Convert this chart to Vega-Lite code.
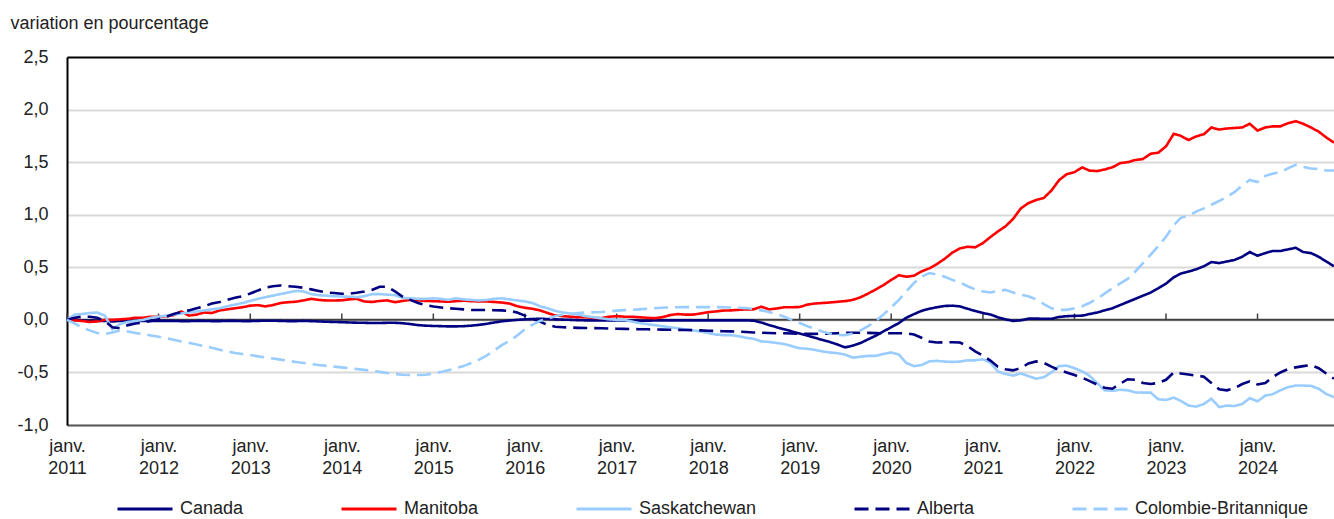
{
"$schema": "https://vega.github.io/schema/vega-lite/v6.json",
"width": 1267, "height": 368,
"autosize": {"type": "none"},
"padding": {"left": 67, "top": 57, "right": 0, "bottom": 94},
"background": "white",
"config": {"view": {"stroke": null}, "font": "Liberation Sans, Arial, sans-serif", "axis": {"labelColor": "#222222", "titleColor": "#222222"}},
"data": {"format": {"parse": {"d": "date"}}, "values": [
{"d":"2011-01","s":"Canada","v":0},{"d":"2011-02","s":"Canada","v":0},{"d":"2011-03","s":"Canada","v":-0.005},{"d":"2011-04","s":"Canada","v":-0.01},{"d":"2011-05","s":"Canada","v":-0.01},{"d":"2011-06","s":"Canada","v":-0.01},{"d":"2011-07","s":"Canada","v":-0.015},{"d":"2011-08","s":"Canada","v":-0.01},{"d":"2011-09","s":"Canada","v":-0.01},{"d":"2011-10","s":"Canada","v":-0.01},{"d":"2011-11","s":"Canada","v":-0.01},{"d":"2011-12","s":"Canada","v":-0.01},
{"d":"2012-01","s":"Canada","v":-0.01},{"d":"2012-02","s":"Canada","v":-0.01},{"d":"2012-03","s":"Canada","v":-0.01},{"d":"2012-04","s":"Canada","v":-0.012},{"d":"2012-05","s":"Canada","v":-0.012},{"d":"2012-06","s":"Canada","v":-0.01},{"d":"2012-07","s":"Canada","v":-0.01},{"d":"2012-08","s":"Canada","v":-0.012},{"d":"2012-09","s":"Canada","v":-0.012},{"d":"2012-10","s":"Canada","v":-0.01},{"d":"2012-11","s":"Canada","v":-0.01},{"d":"2012-12","s":"Canada","v":-0.012},
{"d":"2013-01","s":"Canada","v":-0.012},{"d":"2013-02","s":"Canada","v":-0.01},{"d":"2013-03","s":"Canada","v":-0.008},{"d":"2013-04","s":"Canada","v":-0.008},{"d":"2013-05","s":"Canada","v":-0.01},{"d":"2013-06","s":"Canada","v":-0.012},{"d":"2013-07","s":"Canada","v":-0.012},{"d":"2013-08","s":"Canada","v":-0.01},{"d":"2013-09","s":"Canada","v":-0.012},{"d":"2013-10","s":"Canada","v":-0.015},{"d":"2013-11","s":"Canada","v":-0.018},{"d":"2013-12","s":"Canada","v":-0.02},
{"d":"2014-01","s":"Canada","v":-0.022},{"d":"2014-02","s":"Canada","v":-0.025},{"d":"2014-03","s":"Canada","v":-0.027},{"d":"2014-04","s":"Canada","v":-0.028},{"d":"2014-05","s":"Canada","v":-0.03},{"d":"2014-06","s":"Canada","v":-0.03},{"d":"2014-07","s":"Canada","v":-0.028},{"d":"2014-08","s":"Canada","v":-0.028},{"d":"2014-09","s":"Canada","v":-0.032},{"d":"2014-10","s":"Canada","v":-0.04},{"d":"2014-11","s":"Canada","v":-0.05},{"d":"2014-12","s":"Canada","v":-0.055},
{"d":"2015-01","s":"Canada","v":-0.058},{"d":"2015-02","s":"Canada","v":-0.06},{"d":"2015-03","s":"Canada","v":-0.062},{"d":"2015-04","s":"Canada","v":-0.062},{"d":"2015-05","s":"Canada","v":-0.06},{"d":"2015-06","s":"Canada","v":-0.055},{"d":"2015-07","s":"Canada","v":-0.048},{"d":"2015-08","s":"Canada","v":-0.038},{"d":"2015-09","s":"Canada","v":-0.025},{"d":"2015-10","s":"Canada","v":-0.014},{"d":"2015-11","s":"Canada","v":-0.006},{"d":"2015-12","s":"Canada","v":0},
{"d":"2016-01","s":"Canada","v":0.005},{"d":"2016-02","s":"Canada","v":0.008},{"d":"2016-03","s":"Canada","v":0.01},{"d":"2016-04","s":"Canada","v":0.008},{"d":"2016-05","s":"Canada","v":0.005},{"d":"2016-06","s":"Canada","v":0.002},{"d":"2016-07","s":"Canada","v":0},{"d":"2016-08","s":"Canada","v":-0.003},{"d":"2016-09","s":"Canada","v":-0.005},{"d":"2016-10","s":"Canada","v":-0.005},{"d":"2016-11","s":"Canada","v":-0.005},{"d":"2016-12","s":"Canada","v":-0.005},
{"d":"2017-01","s":"Canada","v":-0.005},{"d":"2017-02","s":"Canada","v":-0.005},{"d":"2017-03","s":"Canada","v":-0.006},{"d":"2017-04","s":"Canada","v":-0.008},{"d":"2017-05","s":"Canada","v":-0.008},{"d":"2017-06","s":"Canada","v":-0.006},{"d":"2017-07","s":"Canada","v":-0.005},{"d":"2017-08","s":"Canada","v":-0.005},{"d":"2017-09","s":"Canada","v":-0.005},{"d":"2017-10","s":"Canada","v":-0.005},{"d":"2017-11","s":"Canada","v":-0.005},{"d":"2017-12","s":"Canada","v":-0.005},
{"d":"2018-01","s":"Canada","v":-0.005},{"d":"2018-02","s":"Canada","v":-0.005},{"d":"2018-03","s":"Canada","v":-0.005},{"d":"2018-04","s":"Canada","v":-0.005},{"d":"2018-05","s":"Canada","v":-0.005},{"d":"2018-06","s":"Canada","v":-0.005},{"d":"2018-07","s":"Canada","v":-0.008},{"d":"2018-08","s":"Canada","v":-0.025},{"d":"2018-09","s":"Canada","v":-0.05},{"d":"2018-10","s":"Canada","v":-0.07},{"d":"2018-11","s":"Canada","v":-0.09},{"d":"2018-12","s":"Canada","v":-0.11},
{"d":"2019-01","s":"Canada","v":-0.13},{"d":"2019-02","s":"Canada","v":-0.15},{"d":"2019-03","s":"Canada","v":-0.17},{"d":"2019-04","s":"Canada","v":-0.19},{"d":"2019-05","s":"Canada","v":-0.21},{"d":"2019-06","s":"Canada","v":-0.235},{"d":"2019-07","s":"Canada","v":-0.262},{"d":"2019-08","s":"Canada","v":-0.245},{"d":"2019-09","s":"Canada","v":-0.22},{"d":"2019-10","s":"Canada","v":-0.185},{"d":"2019-11","s":"Canada","v":-0.15},{"d":"2019-12","s":"Canada","v":-0.11},
{"d":"2020-01","s":"Canada","v":-0.07},{"d":"2020-02","s":"Canada","v":-0.03},{"d":"2020-03","s":"Canada","v":0.02},{"d":"2020-04","s":"Canada","v":0.055},{"d":"2020-05","s":"Canada","v":0.085},{"d":"2020-06","s":"Canada","v":0.105},{"d":"2020-07","s":"Canada","v":0.12},{"d":"2020-08","s":"Canada","v":0.132},{"d":"2020-09","s":"Canada","v":0.135},{"d":"2020-10","s":"Canada","v":0.128},{"d":"2020-11","s":"Canada","v":0.105},{"d":"2020-12","s":"Canada","v":0.085},
{"d":"2021-01","s":"Canada","v":0.065},{"d":"2021-02","s":"Canada","v":0.05},{"d":"2021-03","s":"Canada","v":0.025},{"d":"2021-04","s":"Canada","v":0.005},{"d":"2021-05","s":"Canada","v":-0.01},{"d":"2021-06","s":"Canada","v":-0.005},{"d":"2021-07","s":"Canada","v":0.012},{"d":"2021-08","s":"Canada","v":0.012},{"d":"2021-09","s":"Canada","v":0.01},{"d":"2021-10","s":"Canada","v":0.01},{"d":"2021-11","s":"Canada","v":0.028},{"d":"2021-12","s":"Canada","v":0.035},
{"d":"2022-01","s":"Canada","v":0.038},{"d":"2022-02","s":"Canada","v":0.04},{"d":"2022-03","s":"Canada","v":0.055},{"d":"2022-04","s":"Canada","v":0.07},{"d":"2022-05","s":"Canada","v":0.09},{"d":"2022-06","s":"Canada","v":0.11},{"d":"2022-07","s":"Canada","v":0.14},{"d":"2022-08","s":"Canada","v":0.17},{"d":"2022-09","s":"Canada","v":0.2},{"d":"2022-10","s":"Canada","v":0.23},{"d":"2022-11","s":"Canada","v":0.26},{"d":"2022-12","s":"Canada","v":0.3},
{"d":"2023-01","s":"Canada","v":0.345},{"d":"2023-02","s":"Canada","v":0.405},{"d":"2023-03","s":"Canada","v":0.44},{"d":"2023-04","s":"Canada","v":0.46},{"d":"2023-05","s":"Canada","v":0.48},{"d":"2023-06","s":"Canada","v":0.51},{"d":"2023-07","s":"Canada","v":0.55},{"d":"2023-08","s":"Canada","v":0.54},{"d":"2023-09","s":"Canada","v":0.555},{"d":"2023-10","s":"Canada","v":0.57},{"d":"2023-11","s":"Canada","v":0.6},{"d":"2023-12","s":"Canada","v":0.645},
{"d":"2024-01","s":"Canada","v":0.61},{"d":"2024-02","s":"Canada","v":0.635},{"d":"2024-03","s":"Canada","v":0.655},{"d":"2024-04","s":"Canada","v":0.655},{"d":"2024-05","s":"Canada","v":0.67},{"d":"2024-06","s":"Canada","v":0.685},{"d":"2024-07","s":"Canada","v":0.645},{"d":"2024-08","s":"Canada","v":0.635},{"d":"2024-09","s":"Canada","v":0.6},{"d":"2024-10","s":"Canada","v":0.555},{"d":"2024-11","s":"Canada","v":0.51},
{"d":"2011-01","s":"Manitoba","v":0},{"d":"2011-02","s":"Manitoba","v":-0.005},{"d":"2011-03","s":"Manitoba","v":-0.01},{"d":"2011-04","s":"Manitoba","v":-0.02},{"d":"2011-05","s":"Manitoba","v":-0.015},{"d":"2011-06","s":"Manitoba","v":0},{"d":"2011-07","s":"Manitoba","v":0},{"d":"2011-08","s":"Manitoba","v":0.005},{"d":"2011-09","s":"Manitoba","v":0.01},{"d":"2011-10","s":"Manitoba","v":0.02},{"d":"2011-11","s":"Manitoba","v":0.02},{"d":"2011-12","s":"Manitoba","v":0.03},
{"d":"2012-01","s":"Manitoba","v":0.03},{"d":"2012-02","s":"Manitoba","v":0.035},{"d":"2012-03","s":"Manitoba","v":0.045},{"d":"2012-04","s":"Manitoba","v":0.08},{"d":"2012-05","s":"Manitoba","v":0.04},{"d":"2012-06","s":"Manitoba","v":0.05},{"d":"2012-07","s":"Manitoba","v":0.07},{"d":"2012-08","s":"Manitoba","v":0.065},{"d":"2012-09","s":"Manitoba","v":0.09},{"d":"2012-10","s":"Manitoba","v":0.1},{"d":"2012-11","s":"Manitoba","v":0.11},{"d":"2012-12","s":"Manitoba","v":0.12},
{"d":"2013-01","s":"Manitoba","v":0.135},{"d":"2013-02","s":"Manitoba","v":0.14},{"d":"2013-03","s":"Manitoba","v":0.128},{"d":"2013-04","s":"Manitoba","v":0.14},{"d":"2013-05","s":"Manitoba","v":0.16},{"d":"2013-06","s":"Manitoba","v":0.168},{"d":"2013-07","s":"Manitoba","v":0.172},{"d":"2013-08","s":"Manitoba","v":0.185},{"d":"2013-09","s":"Manitoba","v":0.2},{"d":"2013-10","s":"Manitoba","v":0.19},{"d":"2013-11","s":"Manitoba","v":0.184},{"d":"2013-12","s":"Manitoba","v":0.184},
{"d":"2014-01","s":"Manitoba","v":0.186},{"d":"2014-02","s":"Manitoba","v":0.195},{"d":"2014-03","s":"Manitoba","v":0.2},{"d":"2014-04","s":"Manitoba","v":0.175},{"d":"2014-05","s":"Manitoba","v":0.17},{"d":"2014-06","s":"Manitoba","v":0.18},{"d":"2014-07","s":"Manitoba","v":0.185},{"d":"2014-08","s":"Manitoba","v":0.168},{"d":"2014-09","s":"Manitoba","v":0.18},{"d":"2014-10","s":"Manitoba","v":0.19},{"d":"2014-11","s":"Manitoba","v":0.185},{"d":"2014-12","s":"Manitoba","v":0.18},
{"d":"2015-01","s":"Manitoba","v":0.178},{"d":"2015-02","s":"Manitoba","v":0.175},{"d":"2015-03","s":"Manitoba","v":0.172},{"d":"2015-04","s":"Manitoba","v":0.178},{"d":"2015-05","s":"Manitoba","v":0.182},{"d":"2015-06","s":"Manitoba","v":0.178},{"d":"2015-07","s":"Manitoba","v":0.175},{"d":"2015-08","s":"Manitoba","v":0.175},{"d":"2015-09","s":"Manitoba","v":0.17},{"d":"2015-10","s":"Manitoba","v":0.165},{"d":"2015-11","s":"Manitoba","v":0.155},{"d":"2015-12","s":"Manitoba","v":0.13},
{"d":"2016-01","s":"Manitoba","v":0.115},{"d":"2016-02","s":"Manitoba","v":0.105},{"d":"2016-03","s":"Manitoba","v":0.09},{"d":"2016-04","s":"Manitoba","v":0.065},{"d":"2016-05","s":"Manitoba","v":0.042},{"d":"2016-06","s":"Manitoba","v":0.035},{"d":"2016-07","s":"Manitoba","v":0.03},{"d":"2016-08","s":"Manitoba","v":0.025},{"d":"2016-09","s":"Manitoba","v":0.025},{"d":"2016-10","s":"Manitoba","v":0.018},{"d":"2016-11","s":"Manitoba","v":0.016},{"d":"2016-12","s":"Manitoba","v":0.03},
{"d":"2017-01","s":"Manitoba","v":0.035},{"d":"2017-02","s":"Manitoba","v":0.03},{"d":"2017-03","s":"Manitoba","v":0.03},{"d":"2017-04","s":"Manitoba","v":0.025},{"d":"2017-05","s":"Manitoba","v":0.02},{"d":"2017-06","s":"Manitoba","v":0.016},{"d":"2017-07","s":"Manitoba","v":0.025},{"d":"2017-08","s":"Manitoba","v":0.045},{"d":"2017-09","s":"Manitoba","v":0.055},{"d":"2017-10","s":"Manitoba","v":0.05},{"d":"2017-11","s":"Manitoba","v":0.05},{"d":"2017-12","s":"Manitoba","v":0.06},
{"d":"2018-01","s":"Manitoba","v":0.073},{"d":"2018-02","s":"Manitoba","v":0.08},{"d":"2018-03","s":"Manitoba","v":0.088},{"d":"2018-04","s":"Manitoba","v":0.09},{"d":"2018-05","s":"Manitoba","v":0.095},{"d":"2018-06","s":"Manitoba","v":0.1},{"d":"2018-07","s":"Manitoba","v":0.1},{"d":"2018-08","s":"Manitoba","v":0.125},{"d":"2018-09","s":"Manitoba","v":0.1},{"d":"2018-10","s":"Manitoba","v":0.108},{"d":"2018-11","s":"Manitoba","v":0.12},{"d":"2018-12","s":"Manitoba","v":0.12},
{"d":"2019-01","s":"Manitoba","v":0.122},{"d":"2019-02","s":"Manitoba","v":0.145},{"d":"2019-03","s":"Manitoba","v":0.155},{"d":"2019-04","s":"Manitoba","v":0.16},{"d":"2019-05","s":"Manitoba","v":0.165},{"d":"2019-06","s":"Manitoba","v":0.172},{"d":"2019-07","s":"Manitoba","v":0.178},{"d":"2019-08","s":"Manitoba","v":0.19},{"d":"2019-09","s":"Manitoba","v":0.215},{"d":"2019-10","s":"Manitoba","v":0.25},{"d":"2019-11","s":"Manitoba","v":0.29},{"d":"2019-12","s":"Manitoba","v":0.33},
{"d":"2020-01","s":"Manitoba","v":0.38},{"d":"2020-02","s":"Manitoba","v":0.425},{"d":"2020-03","s":"Manitoba","v":0.41},{"d":"2020-04","s":"Manitoba","v":0.42},{"d":"2020-05","s":"Manitoba","v":0.46},{"d":"2020-06","s":"Manitoba","v":0.49},{"d":"2020-07","s":"Manitoba","v":0.53},{"d":"2020-08","s":"Manitoba","v":0.58},{"d":"2020-09","s":"Manitoba","v":0.64},{"d":"2020-10","s":"Manitoba","v":0.68},{"d":"2020-11","s":"Manitoba","v":0.695},{"d":"2020-12","s":"Manitoba","v":0.69},
{"d":"2021-01","s":"Manitoba","v":0.73},{"d":"2021-02","s":"Manitoba","v":0.79},{"d":"2021-03","s":"Manitoba","v":0.84},{"d":"2021-04","s":"Manitoba","v":0.89},{"d":"2021-05","s":"Manitoba","v":0.96},{"d":"2021-06","s":"Manitoba","v":1.06},{"d":"2021-07","s":"Manitoba","v":1.11},{"d":"2021-08","s":"Manitoba","v":1.14},{"d":"2021-09","s":"Manitoba","v":1.16},{"d":"2021-10","s":"Manitoba","v":1.23},{"d":"2021-11","s":"Manitoba","v":1.33},{"d":"2021-12","s":"Manitoba","v":1.385},
{"d":"2022-01","s":"Manitoba","v":1.405},{"d":"2022-02","s":"Manitoba","v":1.45},{"d":"2022-03","s":"Manitoba","v":1.42},{"d":"2022-04","s":"Manitoba","v":1.415},{"d":"2022-05","s":"Manitoba","v":1.43},{"d":"2022-06","s":"Manitoba","v":1.45},{"d":"2022-07","s":"Manitoba","v":1.49},{"d":"2022-08","s":"Manitoba","v":1.5},{"d":"2022-09","s":"Manitoba","v":1.52},{"d":"2022-10","s":"Manitoba","v":1.53},{"d":"2022-11","s":"Manitoba","v":1.58},{"d":"2022-12","s":"Manitoba","v":1.59},
{"d":"2023-01","s":"Manitoba","v":1.65},{"d":"2023-02","s":"Manitoba","v":1.77},{"d":"2023-03","s":"Manitoba","v":1.75},{"d":"2023-04","s":"Manitoba","v":1.71},{"d":"2023-05","s":"Manitoba","v":1.745},{"d":"2023-06","s":"Manitoba","v":1.765},{"d":"2023-07","s":"Manitoba","v":1.83},{"d":"2023-08","s":"Manitoba","v":1.81},{"d":"2023-09","s":"Manitoba","v":1.82},{"d":"2023-10","s":"Manitoba","v":1.825},{"d":"2023-11","s":"Manitoba","v":1.83},{"d":"2023-12","s":"Manitoba","v":1.865},
{"d":"2024-01","s":"Manitoba","v":1.8},{"d":"2024-02","s":"Manitoba","v":1.83},{"d":"2024-03","s":"Manitoba","v":1.84},{"d":"2024-04","s":"Manitoba","v":1.84},{"d":"2024-05","s":"Manitoba","v":1.87},{"d":"2024-06","s":"Manitoba","v":1.89},{"d":"2024-07","s":"Manitoba","v":1.865},{"d":"2024-08","s":"Manitoba","v":1.83},{"d":"2024-09","s":"Manitoba","v":1.79},{"d":"2024-10","s":"Manitoba","v":1.735},{"d":"2024-11","s":"Manitoba","v":1.685},
{"d":"2011-01","s":"Saskatchewan","v":0},{"d":"2011-02","s":"Saskatchewan","v":0.05},{"d":"2011-03","s":"Saskatchewan","v":0.055},{"d":"2011-04","s":"Saskatchewan","v":0.065},{"d":"2011-05","s":"Saskatchewan","v":0.07},{"d":"2011-06","s":"Saskatchewan","v":0.04},{"d":"2011-07","s":"Saskatchewan","v":-0.09},{"d":"2011-08","s":"Saskatchewan","v":-0.04},{"d":"2011-09","s":"Saskatchewan","v":-0.02},{"d":"2011-10","s":"Saskatchewan","v":-0.01},{"d":"2011-11","s":"Saskatchewan","v":0},{"d":"2011-12","s":"Saskatchewan","v":0.02},
{"d":"2012-01","s":"Saskatchewan","v":0.03},{"d":"2012-02","s":"Saskatchewan","v":0.04},{"d":"2012-03","s":"Saskatchewan","v":0.05},{"d":"2012-04","s":"Saskatchewan","v":0.06},{"d":"2012-05","s":"Saskatchewan","v":0.07},{"d":"2012-06","s":"Saskatchewan","v":0.08},{"d":"2012-07","s":"Saskatchewan","v":0.09},{"d":"2012-08","s":"Saskatchewan","v":0.1},{"d":"2012-09","s":"Saskatchewan","v":0.11},{"d":"2012-10","s":"Saskatchewan","v":0.13},{"d":"2012-11","s":"Saskatchewan","v":0.145},{"d":"2012-12","s":"Saskatchewan","v":0.16},
{"d":"2013-01","s":"Saskatchewan","v":0.18},{"d":"2013-02","s":"Saskatchewan","v":0.2},{"d":"2013-03","s":"Saskatchewan","v":0.215},{"d":"2013-04","s":"Saskatchewan","v":0.23},{"d":"2013-05","s":"Saskatchewan","v":0.245},{"d":"2013-06","s":"Saskatchewan","v":0.26},{"d":"2013-07","s":"Saskatchewan","v":0.275},{"d":"2013-08","s":"Saskatchewan","v":0.27},{"d":"2013-09","s":"Saskatchewan","v":0.245},{"d":"2013-10","s":"Saskatchewan","v":0.235},{"d":"2013-11","s":"Saskatchewan","v":0.23},{"d":"2013-12","s":"Saskatchewan","v":0.225},
{"d":"2014-01","s":"Saskatchewan","v":0.222},{"d":"2014-02","s":"Saskatchewan","v":0.22},{"d":"2014-03","s":"Saskatchewan","v":0.216},{"d":"2014-04","s":"Saskatchewan","v":0.225},{"d":"2014-05","s":"Saskatchewan","v":0.245},{"d":"2014-06","s":"Saskatchewan","v":0.245},{"d":"2014-07","s":"Saskatchewan","v":0.24},{"d":"2014-08","s":"Saskatchewan","v":0.235},{"d":"2014-09","s":"Saskatchewan","v":0.21},{"d":"2014-10","s":"Saskatchewan","v":0.205},{"d":"2014-11","s":"Saskatchewan","v":0.2},{"d":"2014-12","s":"Saskatchewan","v":0.2},
{"d":"2015-01","s":"Saskatchewan","v":0.205},{"d":"2015-02","s":"Saskatchewan","v":0.2},{"d":"2015-03","s":"Saskatchewan","v":0.19},{"d":"2015-04","s":"Saskatchewan","v":0.205},{"d":"2015-05","s":"Saskatchewan","v":0.195},{"d":"2015-06","s":"Saskatchewan","v":0.19},{"d":"2015-07","s":"Saskatchewan","v":0.185},{"d":"2015-08","s":"Saskatchewan","v":0.19},{"d":"2015-09","s":"Saskatchewan","v":0.2},{"d":"2015-10","s":"Saskatchewan","v":0.205},{"d":"2015-11","s":"Saskatchewan","v":0.195},{"d":"2015-12","s":"Saskatchewan","v":0.185},
{"d":"2016-01","s":"Saskatchewan","v":0.175},{"d":"2016-02","s":"Saskatchewan","v":0.16},{"d":"2016-03","s":"Saskatchewan","v":0.13},{"d":"2016-04","s":"Saskatchewan","v":0.11},{"d":"2016-05","s":"Saskatchewan","v":0.085},{"d":"2016-06","s":"Saskatchewan","v":0.07},{"d":"2016-07","s":"Saskatchewan","v":0.06},{"d":"2016-08","s":"Saskatchewan","v":0.05},{"d":"2016-09","s":"Saskatchewan","v":0.035},{"d":"2016-10","s":"Saskatchewan","v":0.025},{"d":"2016-11","s":"Saskatchewan","v":0.015},{"d":"2016-12","s":"Saskatchewan","v":0.005},
{"d":"2017-01","s":"Saskatchewan","v":0},{"d":"2017-02","s":"Saskatchewan","v":0},{"d":"2017-03","s":"Saskatchewan","v":-0.015},{"d":"2017-04","s":"Saskatchewan","v":-0.03},{"d":"2017-05","s":"Saskatchewan","v":-0.04},{"d":"2017-06","s":"Saskatchewan","v":-0.05},{"d":"2017-07","s":"Saskatchewan","v":-0.06},{"d":"2017-08","s":"Saskatchewan","v":-0.07},{"d":"2017-09","s":"Saskatchewan","v":-0.08},{"d":"2017-10","s":"Saskatchewan","v":-0.09},{"d":"2017-11","s":"Saskatchewan","v":-0.1},{"d":"2017-12","s":"Saskatchewan","v":-0.11},
{"d":"2018-01","s":"Saskatchewan","v":-0.125},{"d":"2018-02","s":"Saskatchewan","v":-0.14},{"d":"2018-03","s":"Saskatchewan","v":-0.145},{"d":"2018-04","s":"Saskatchewan","v":-0.145},{"d":"2018-05","s":"Saskatchewan","v":-0.155},{"d":"2018-06","s":"Saskatchewan","v":-0.17},{"d":"2018-07","s":"Saskatchewan","v":-0.18},{"d":"2018-08","s":"Saskatchewan","v":-0.205},{"d":"2018-09","s":"Saskatchewan","v":-0.21},{"d":"2018-10","s":"Saskatchewan","v":-0.22},{"d":"2018-11","s":"Saskatchewan","v":-0.23},{"d":"2018-12","s":"Saskatchewan","v":-0.25},
{"d":"2019-01","s":"Saskatchewan","v":-0.27},{"d":"2019-02","s":"Saskatchewan","v":-0.275},{"d":"2019-03","s":"Saskatchewan","v":-0.285},{"d":"2019-04","s":"Saskatchewan","v":-0.3},{"d":"2019-05","s":"Saskatchewan","v":-0.31},{"d":"2019-06","s":"Saskatchewan","v":-0.317},{"d":"2019-07","s":"Saskatchewan","v":-0.33},{"d":"2019-08","s":"Saskatchewan","v":-0.36},{"d":"2019-09","s":"Saskatchewan","v":-0.35},{"d":"2019-10","s":"Saskatchewan","v":-0.343},{"d":"2019-11","s":"Saskatchewan","v":-0.343},{"d":"2019-12","s":"Saskatchewan","v":-0.325},
{"d":"2020-01","s":"Saskatchewan","v":-0.31},{"d":"2020-02","s":"Saskatchewan","v":-0.33},{"d":"2020-03","s":"Saskatchewan","v":-0.41},{"d":"2020-04","s":"Saskatchewan","v":-0.44},{"d":"2020-05","s":"Saskatchewan","v":-0.43},{"d":"2020-06","s":"Saskatchewan","v":-0.395},{"d":"2020-07","s":"Saskatchewan","v":-0.39},{"d":"2020-08","s":"Saskatchewan","v":-0.397},{"d":"2020-09","s":"Saskatchewan","v":-0.4},{"d":"2020-10","s":"Saskatchewan","v":-0.397},{"d":"2020-11","s":"Saskatchewan","v":-0.385},{"d":"2020-12","s":"Saskatchewan","v":-0.385},
{"d":"2021-01","s":"Saskatchewan","v":-0.375},{"d":"2021-02","s":"Saskatchewan","v":-0.41},{"d":"2021-03","s":"Saskatchewan","v":-0.49},{"d":"2021-04","s":"Saskatchewan","v":-0.515},{"d":"2021-05","s":"Saskatchewan","v":-0.53},{"d":"2021-06","s":"Saskatchewan","v":-0.51},{"d":"2021-07","s":"Saskatchewan","v":-0.535},{"d":"2021-08","s":"Saskatchewan","v":-0.56},{"d":"2021-09","s":"Saskatchewan","v":-0.545},{"d":"2021-10","s":"Saskatchewan","v":-0.5},{"d":"2021-11","s":"Saskatchewan","v":-0.44},{"d":"2021-12","s":"Saskatchewan","v":-0.435},
{"d":"2022-01","s":"Saskatchewan","v":-0.46},{"d":"2022-02","s":"Saskatchewan","v":-0.49},{"d":"2022-03","s":"Saskatchewan","v":-0.53},{"d":"2022-04","s":"Saskatchewan","v":-0.6},{"d":"2022-05","s":"Saskatchewan","v":-0.67},{"d":"2022-06","s":"Saskatchewan","v":-0.675},{"d":"2022-07","s":"Saskatchewan","v":-0.665},{"d":"2022-08","s":"Saskatchewan","v":-0.67},{"d":"2022-09","s":"Saskatchewan","v":-0.69},{"d":"2022-10","s":"Saskatchewan","v":-0.692},{"d":"2022-11","s":"Saskatchewan","v":-0.692},{"d":"2022-12","s":"Saskatchewan","v":-0.755},
{"d":"2023-01","s":"Saskatchewan","v":-0.762},{"d":"2023-02","s":"Saskatchewan","v":-0.74},{"d":"2023-03","s":"Saskatchewan","v":-0.77},{"d":"2023-04","s":"Saskatchewan","v":-0.815},{"d":"2023-05","s":"Saskatchewan","v":-0.825},{"d":"2023-06","s":"Saskatchewan","v":-0.8},{"d":"2023-07","s":"Saskatchewan","v":-0.75},{"d":"2023-08","s":"Saskatchewan","v":-0.83},{"d":"2023-09","s":"Saskatchewan","v":-0.815},{"d":"2023-10","s":"Saskatchewan","v":-0.82},{"d":"2023-11","s":"Saskatchewan","v":-0.8},{"d":"2023-12","s":"Saskatchewan","v":-0.745},
{"d":"2024-01","s":"Saskatchewan","v":-0.775},{"d":"2024-02","s":"Saskatchewan","v":-0.72},{"d":"2024-03","s":"Saskatchewan","v":-0.708},{"d":"2024-04","s":"Saskatchewan","v":-0.67},{"d":"2024-05","s":"Saskatchewan","v":-0.64},{"d":"2024-06","s":"Saskatchewan","v":-0.625},{"d":"2024-07","s":"Saskatchewan","v":-0.625},{"d":"2024-08","s":"Saskatchewan","v":-0.628},{"d":"2024-09","s":"Saskatchewan","v":-0.655},{"d":"2024-10","s":"Saskatchewan","v":-0.705},{"d":"2024-11","s":"Saskatchewan","v":-0.735},
{"d":"2011-01","s":"Alberta","v":0},{"d":"2011-02","s":"Alberta","v":0.02},{"d":"2011-03","s":"Alberta","v":0.03},{"d":"2011-04","s":"Alberta","v":0.03},{"d":"2011-05","s":"Alberta","v":0.02},{"d":"2011-06","s":"Alberta","v":-0.01},{"d":"2011-07","s":"Alberta","v":-0.07},{"d":"2011-08","s":"Alberta","v":-0.08},{"d":"2011-09","s":"Alberta","v":-0.05},{"d":"2011-10","s":"Alberta","v":-0.035},{"d":"2011-11","s":"Alberta","v":-0.025},{"d":"2011-12","s":"Alberta","v":-0.01},
{"d":"2012-01","s":"Alberta","v":0.005},{"d":"2012-02","s":"Alberta","v":0.03},{"d":"2012-03","s":"Alberta","v":0.055},{"d":"2012-04","s":"Alberta","v":0.075},{"d":"2012-05","s":"Alberta","v":0.09},{"d":"2012-06","s":"Alberta","v":0.11},{"d":"2012-07","s":"Alberta","v":0.13},{"d":"2012-08","s":"Alberta","v":0.155},{"d":"2012-09","s":"Alberta","v":0.17},{"d":"2012-10","s":"Alberta","v":0.19},{"d":"2012-11","s":"Alberta","v":0.21},{"d":"2012-12","s":"Alberta","v":0.225},
{"d":"2013-01","s":"Alberta","v":0.25},{"d":"2013-02","s":"Alberta","v":0.28},{"d":"2013-03","s":"Alberta","v":0.305},{"d":"2013-04","s":"Alberta","v":0.32},{"d":"2013-05","s":"Alberta","v":0.327},{"d":"2013-06","s":"Alberta","v":0.32},{"d":"2013-07","s":"Alberta","v":0.315},{"d":"2013-08","s":"Alberta","v":0.305},{"d":"2013-09","s":"Alberta","v":0.29},{"d":"2013-10","s":"Alberta","v":0.275},{"d":"2013-11","s":"Alberta","v":0.26},{"d":"2013-12","s":"Alberta","v":0.255},
{"d":"2014-01","s":"Alberta","v":0.248},{"d":"2014-02","s":"Alberta","v":0.25},{"d":"2014-03","s":"Alberta","v":0.258},{"d":"2014-04","s":"Alberta","v":0.27},{"d":"2014-05","s":"Alberta","v":0.285},{"d":"2014-06","s":"Alberta","v":0.315},{"d":"2014-07","s":"Alberta","v":0.315},{"d":"2014-08","s":"Alberta","v":0.27},{"d":"2014-09","s":"Alberta","v":0.22},{"d":"2014-10","s":"Alberta","v":0.19},{"d":"2014-11","s":"Alberta","v":0.16},{"d":"2014-12","s":"Alberta","v":0.14},
{"d":"2015-01","s":"Alberta","v":0.127},{"d":"2015-02","s":"Alberta","v":0.118},{"d":"2015-03","s":"Alberta","v":0.111},{"d":"2015-04","s":"Alberta","v":0.105},{"d":"2015-05","s":"Alberta","v":0.1},{"d":"2015-06","s":"Alberta","v":0.095},{"d":"2015-07","s":"Alberta","v":0.094},{"d":"2015-08","s":"Alberta","v":0.093},{"d":"2015-09","s":"Alberta","v":0.092},{"d":"2015-10","s":"Alberta","v":0.09},{"d":"2015-11","s":"Alberta","v":0.085},{"d":"2015-12","s":"Alberta","v":0.07},
{"d":"2016-01","s":"Alberta","v":0.04},{"d":"2016-02","s":"Alberta","v":0.01},{"d":"2016-03","s":"Alberta","v":-0.016},{"d":"2016-04","s":"Alberta","v":-0.05},{"d":"2016-05","s":"Alberta","v":-0.065},{"d":"2016-06","s":"Alberta","v":-0.07},{"d":"2016-07","s":"Alberta","v":-0.073},{"d":"2016-08","s":"Alberta","v":-0.076},{"d":"2016-09","s":"Alberta","v":-0.078},{"d":"2016-10","s":"Alberta","v":-0.079},{"d":"2016-11","s":"Alberta","v":-0.08},{"d":"2016-12","s":"Alberta","v":-0.082},
{"d":"2017-01","s":"Alberta","v":-0.084},{"d":"2017-02","s":"Alberta","v":-0.086},{"d":"2017-03","s":"Alberta","v":-0.088},{"d":"2017-04","s":"Alberta","v":-0.089},{"d":"2017-05","s":"Alberta","v":-0.09},{"d":"2017-06","s":"Alberta","v":-0.092},{"d":"2017-07","s":"Alberta","v":-0.093},{"d":"2017-08","s":"Alberta","v":-0.094},{"d":"2017-09","s":"Alberta","v":-0.095},{"d":"2017-10","s":"Alberta","v":-0.096},{"d":"2017-11","s":"Alberta","v":-0.098},{"d":"2017-12","s":"Alberta","v":-0.1},
{"d":"2018-01","s":"Alberta","v":-0.103},{"d":"2018-02","s":"Alberta","v":-0.106},{"d":"2018-03","s":"Alberta","v":-0.108},{"d":"2018-04","s":"Alberta","v":-0.11},{"d":"2018-05","s":"Alberta","v":-0.112},{"d":"2018-06","s":"Alberta","v":-0.116},{"d":"2018-07","s":"Alberta","v":-0.12},{"d":"2018-08","s":"Alberta","v":-0.123},{"d":"2018-09","s":"Alberta","v":-0.125},{"d":"2018-10","s":"Alberta","v":-0.127},{"d":"2018-11","s":"Alberta","v":-0.128},{"d":"2018-12","s":"Alberta","v":-0.13},
{"d":"2019-01","s":"Alberta","v":-0.132},{"d":"2019-02","s":"Alberta","v":-0.133},{"d":"2019-03","s":"Alberta","v":-0.133},{"d":"2019-04","s":"Alberta","v":-0.132},{"d":"2019-05","s":"Alberta","v":-0.13},{"d":"2019-06","s":"Alberta","v":-0.127},{"d":"2019-07","s":"Alberta","v":-0.124},{"d":"2019-08","s":"Alberta","v":-0.122},{"d":"2019-09","s":"Alberta","v":-0.122},{"d":"2019-10","s":"Alberta","v":-0.124},{"d":"2019-11","s":"Alberta","v":-0.126},{"d":"2019-12","s":"Alberta","v":-0.127},
{"d":"2020-01","s":"Alberta","v":-0.127},{"d":"2020-02","s":"Alberta","v":-0.127},{"d":"2020-03","s":"Alberta","v":-0.127},{"d":"2020-04","s":"Alberta","v":-0.14},{"d":"2020-05","s":"Alberta","v":-0.17},{"d":"2020-06","s":"Alberta","v":-0.205},{"d":"2020-07","s":"Alberta","v":-0.216},{"d":"2020-08","s":"Alberta","v":-0.214},{"d":"2020-09","s":"Alberta","v":-0.213},{"d":"2020-10","s":"Alberta","v":-0.215},{"d":"2020-11","s":"Alberta","v":-0.25},{"d":"2020-12","s":"Alberta","v":-0.3},
{"d":"2021-01","s":"Alberta","v":-0.34},{"d":"2021-02","s":"Alberta","v":-0.39},{"d":"2021-03","s":"Alberta","v":-0.445},{"d":"2021-04","s":"Alberta","v":-0.47},{"d":"2021-05","s":"Alberta","v":-0.48},{"d":"2021-06","s":"Alberta","v":-0.46},{"d":"2021-07","s":"Alberta","v":-0.415},{"d":"2021-08","s":"Alberta","v":-0.395},{"d":"2021-09","s":"Alberta","v":-0.41},{"d":"2021-10","s":"Alberta","v":-0.445},{"d":"2021-11","s":"Alberta","v":-0.478},{"d":"2021-12","s":"Alberta","v":-0.5},
{"d":"2022-01","s":"Alberta","v":-0.525},{"d":"2022-02","s":"Alberta","v":-0.55},{"d":"2022-03","s":"Alberta","v":-0.58},{"d":"2022-04","s":"Alberta","v":-0.615},{"d":"2022-05","s":"Alberta","v":-0.645},{"d":"2022-06","s":"Alberta","v":-0.655},{"d":"2022-07","s":"Alberta","v":-0.61},{"d":"2022-08","s":"Alberta","v":-0.565},{"d":"2022-09","s":"Alberta","v":-0.57},{"d":"2022-10","s":"Alberta","v":-0.6},{"d":"2022-11","s":"Alberta","v":-0.61},{"d":"2022-12","s":"Alberta","v":-0.6},
{"d":"2023-01","s":"Alberta","v":-0.57},{"d":"2023-02","s":"Alberta","v":-0.5},{"d":"2023-03","s":"Alberta","v":-0.51},{"d":"2023-04","s":"Alberta","v":-0.52},{"d":"2023-05","s":"Alberta","v":-0.53},{"d":"2023-06","s":"Alberta","v":-0.54},{"d":"2023-07","s":"Alberta","v":-0.6},{"d":"2023-08","s":"Alberta","v":-0.66},{"d":"2023-09","s":"Alberta","v":-0.67},{"d":"2023-10","s":"Alberta","v":-0.65},{"d":"2023-11","s":"Alberta","v":-0.61},{"d":"2023-12","s":"Alberta","v":-0.585},
{"d":"2024-01","s":"Alberta","v":-0.615},{"d":"2024-02","s":"Alberta","v":-0.6},{"d":"2024-03","s":"Alberta","v":-0.545},{"d":"2024-04","s":"Alberta","v":-0.5},{"d":"2024-05","s":"Alberta","v":-0.47},{"d":"2024-06","s":"Alberta","v":-0.452},{"d":"2024-07","s":"Alberta","v":-0.44},{"d":"2024-08","s":"Alberta","v":-0.43},{"d":"2024-09","s":"Alberta","v":-0.46},{"d":"2024-10","s":"Alberta","v":-0.51},{"d":"2024-11","s":"Alberta","v":-0.56},
{"d":"2011-01","s":"Colombie-Britannique","v":0},{"d":"2011-02","s":"Colombie-Britannique","v":-0.035},{"d":"2011-03","s":"Colombie-Britannique","v":-0.07},{"d":"2011-04","s":"Colombie-Britannique","v":-0.1},{"d":"2011-05","s":"Colombie-Britannique","v":-0.125},{"d":"2011-06","s":"Colombie-Britannique","v":-0.135},{"d":"2011-07","s":"Colombie-Britannique","v":-0.12},{"d":"2011-08","s":"Colombie-Britannique","v":-0.1},{"d":"2011-09","s":"Colombie-Britannique","v":-0.11},{"d":"2011-10","s":"Colombie-Britannique","v":-0.125},{"d":"2011-11","s":"Colombie-Britannique","v":-0.135},{"d":"2011-12","s":"Colombie-Britannique","v":-0.148},
{"d":"2012-01","s":"Colombie-Britannique","v":-0.16},{"d":"2012-02","s":"Colombie-Britannique","v":-0.175},{"d":"2012-03","s":"Colombie-Britannique","v":-0.19},{"d":"2012-04","s":"Colombie-Britannique","v":-0.205},{"d":"2012-05","s":"Colombie-Britannique","v":-0.218},{"d":"2012-06","s":"Colombie-Britannique","v":-0.235},{"d":"2012-07","s":"Colombie-Britannique","v":-0.25},{"d":"2012-08","s":"Colombie-Britannique","v":-0.265},{"d":"2012-09","s":"Colombie-Britannique","v":-0.285},{"d":"2012-10","s":"Colombie-Britannique","v":-0.3},{"d":"2012-11","s":"Colombie-Britannique","v":-0.315},{"d":"2012-12","s":"Colombie-Britannique","v":-0.325},
{"d":"2013-01","s":"Colombie-Britannique","v":-0.335},{"d":"2013-02","s":"Colombie-Britannique","v":-0.347},{"d":"2013-03","s":"Colombie-Britannique","v":-0.357},{"d":"2013-04","s":"Colombie-Britannique","v":-0.368},{"d":"2013-05","s":"Colombie-Britannique","v":-0.378},{"d":"2013-06","s":"Colombie-Britannique","v":-0.39},{"d":"2013-07","s":"Colombie-Britannique","v":-0.4},{"d":"2013-08","s":"Colombie-Britannique","v":-0.41},{"d":"2013-09","s":"Colombie-Britannique","v":-0.42},{"d":"2013-10","s":"Colombie-Britannique","v":-0.43},{"d":"2013-11","s":"Colombie-Britannique","v":-0.438},{"d":"2013-12","s":"Colombie-Britannique","v":-0.445},
{"d":"2014-01","s":"Colombie-Britannique","v":-0.452},{"d":"2014-02","s":"Colombie-Britannique","v":-0.46},{"d":"2014-03","s":"Colombie-Britannique","v":-0.468},{"d":"2014-04","s":"Colombie-Britannique","v":-0.476},{"d":"2014-05","s":"Colombie-Britannique","v":-0.485},{"d":"2014-06","s":"Colombie-Britannique","v":-0.495},{"d":"2014-07","s":"Colombie-Britannique","v":-0.505},{"d":"2014-08","s":"Colombie-Britannique","v":-0.515},{"d":"2014-09","s":"Colombie-Britannique","v":-0.522},{"d":"2014-10","s":"Colombie-Britannique","v":-0.525},{"d":"2014-11","s":"Colombie-Britannique","v":-0.525},{"d":"2014-12","s":"Colombie-Britannique","v":-0.522},
{"d":"2015-01","s":"Colombie-Britannique","v":-0.51},{"d":"2015-02","s":"Colombie-Britannique","v":-0.495},{"d":"2015-03","s":"Colombie-Britannique","v":-0.48},{"d":"2015-04","s":"Colombie-Britannique","v":-0.46},{"d":"2015-05","s":"Colombie-Britannique","v":-0.44},{"d":"2015-06","s":"Colombie-Britannique","v":-0.41},{"d":"2015-07","s":"Colombie-Britannique","v":-0.38},{"d":"2015-08","s":"Colombie-Britannique","v":-0.34},{"d":"2015-09","s":"Colombie-Britannique","v":-0.29},{"d":"2015-10","s":"Colombie-Britannique","v":-0.24},{"d":"2015-11","s":"Colombie-Britannique","v":-0.2},{"d":"2015-12","s":"Colombie-Britannique","v":-0.15},
{"d":"2016-01","s":"Colombie-Britannique","v":-0.09},{"d":"2016-02","s":"Colombie-Britannique","v":-0.045},{"d":"2016-03","s":"Colombie-Britannique","v":-0.01},{"d":"2016-04","s":"Colombie-Britannique","v":0.012},{"d":"2016-05","s":"Colombie-Britannique","v":0.035},{"d":"2016-06","s":"Colombie-Britannique","v":0.05},{"d":"2016-07","s":"Colombie-Britannique","v":0.055},{"d":"2016-08","s":"Colombie-Britannique","v":0.065},{"d":"2016-09","s":"Colombie-Britannique","v":0.07},{"d":"2016-10","s":"Colombie-Britannique","v":0.072},{"d":"2016-11","s":"Colombie-Britannique","v":0.075},{"d":"2016-12","s":"Colombie-Britannique","v":0.08},
{"d":"2017-01","s":"Colombie-Britannique","v":0.088},{"d":"2017-02","s":"Colombie-Britannique","v":0.093},{"d":"2017-03","s":"Colombie-Britannique","v":0.095},{"d":"2017-04","s":"Colombie-Britannique","v":0.1},{"d":"2017-05","s":"Colombie-Britannique","v":0.105},{"d":"2017-06","s":"Colombie-Britannique","v":0.11},{"d":"2017-07","s":"Colombie-Britannique","v":0.115},{"d":"2017-08","s":"Colombie-Britannique","v":0.118},{"d":"2017-09","s":"Colombie-Britannique","v":0.12},{"d":"2017-10","s":"Colombie-Britannique","v":0.121},{"d":"2017-11","s":"Colombie-Britannique","v":0.121},{"d":"2017-12","s":"Colombie-Britannique","v":0.121},
{"d":"2018-01","s":"Colombie-Britannique","v":0.121},{"d":"2018-02","s":"Colombie-Britannique","v":0.121},{"d":"2018-03","s":"Colombie-Britannique","v":0.12},{"d":"2018-04","s":"Colombie-Britannique","v":0.118},{"d":"2018-05","s":"Colombie-Britannique","v":0.115},{"d":"2018-06","s":"Colombie-Britannique","v":0.112},{"d":"2018-07","s":"Colombie-Britannique","v":0.105},{"d":"2018-08","s":"Colombie-Britannique","v":0.09},{"d":"2018-09","s":"Colombie-Britannique","v":0.075},{"d":"2018-10","s":"Colombie-Britannique","v":0.055},{"d":"2018-11","s":"Colombie-Britannique","v":0.03},{"d":"2018-12","s":"Colombie-Britannique","v":0},
{"d":"2019-01","s":"Colombie-Britannique","v":-0.03},{"d":"2019-02","s":"Colombie-Britannique","v":-0.06},{"d":"2019-03","s":"Colombie-Britannique","v":-0.085},{"d":"2019-04","s":"Colombie-Britannique","v":-0.11},{"d":"2019-05","s":"Colombie-Britannique","v":-0.13},{"d":"2019-06","s":"Colombie-Britannique","v":-0.143},{"d":"2019-07","s":"Colombie-Britannique","v":-0.145},{"d":"2019-08","s":"Colombie-Britannique","v":-0.13},{"d":"2019-09","s":"Colombie-Britannique","v":-0.1},{"d":"2019-10","s":"Colombie-Britannique","v":-0.06},{"d":"2019-11","s":"Colombie-Britannique","v":-0.01},{"d":"2019-12","s":"Colombie-Britannique","v":0.05},
{"d":"2020-01","s":"Colombie-Britannique","v":0.12},{"d":"2020-02","s":"Colombie-Britannique","v":0.19},{"d":"2020-03","s":"Colombie-Britannique","v":0.27},{"d":"2020-04","s":"Colombie-Britannique","v":0.35},{"d":"2020-05","s":"Colombie-Britannique","v":0.41},{"d":"2020-06","s":"Colombie-Britannique","v":0.445},{"d":"2020-07","s":"Colombie-Britannique","v":0.43},{"d":"2020-08","s":"Colombie-Britannique","v":0.41},{"d":"2020-09","s":"Colombie-Britannique","v":0.38},{"d":"2020-10","s":"Colombie-Britannique","v":0.355},{"d":"2020-11","s":"Colombie-Britannique","v":0.32},{"d":"2020-12","s":"Colombie-Britannique","v":0.29},
{"d":"2021-01","s":"Colombie-Britannique","v":0.27},{"d":"2021-02","s":"Colombie-Britannique","v":0.26},{"d":"2021-03","s":"Colombie-Britannique","v":0.275},{"d":"2021-04","s":"Colombie-Britannique","v":0.285},{"d":"2021-05","s":"Colombie-Britannique","v":0.26},{"d":"2021-06","s":"Colombie-Britannique","v":0.24},{"d":"2021-07","s":"Colombie-Britannique","v":0.225},{"d":"2021-08","s":"Colombie-Britannique","v":0.195},{"d":"2021-09","s":"Colombie-Britannique","v":0.15},{"d":"2021-10","s":"Colombie-Britannique","v":0.11},{"d":"2021-11","s":"Colombie-Britannique","v":0.095},{"d":"2021-12","s":"Colombie-Britannique","v":0.095},
{"d":"2022-01","s":"Colombie-Britannique","v":0.11},{"d":"2022-02","s":"Colombie-Britannique","v":0.13},{"d":"2022-03","s":"Colombie-Britannique","v":0.16},{"d":"2022-04","s":"Colombie-Britannique","v":0.2},{"d":"2022-05","s":"Colombie-Britannique","v":0.25},{"d":"2022-06","s":"Colombie-Britannique","v":0.3},{"d":"2022-07","s":"Colombie-Britannique","v":0.345},{"d":"2022-08","s":"Colombie-Britannique","v":0.39},{"d":"2022-09","s":"Colombie-Britannique","v":0.46},{"d":"2022-10","s":"Colombie-Britannique","v":0.54},{"d":"2022-11","s":"Colombie-Britannique","v":0.62},{"d":"2022-12","s":"Colombie-Britannique","v":0.7},
{"d":"2023-01","s":"Colombie-Britannique","v":0.79},{"d":"2023-02","s":"Colombie-Britannique","v":0.9},{"d":"2023-03","s":"Colombie-Britannique","v":0.97},{"d":"2023-04","s":"Colombie-Britannique","v":0.99},{"d":"2023-05","s":"Colombie-Britannique","v":1.03},{"d":"2023-06","s":"Colombie-Britannique","v":1.06},{"d":"2023-07","s":"Colombie-Britannique","v":1.095},{"d":"2023-08","s":"Colombie-Britannique","v":1.13},{"d":"2023-09","s":"Colombie-Britannique","v":1.17},{"d":"2023-10","s":"Colombie-Britannique","v":1.215},{"d":"2023-11","s":"Colombie-Britannique","v":1.28},{"d":"2023-12","s":"Colombie-Britannique","v":1.33},
{"d":"2024-01","s":"Colombie-Britannique","v":1.31},{"d":"2024-02","s":"Colombie-Britannique","v":1.37},{"d":"2024-03","s":"Colombie-Britannique","v":1.39},{"d":"2024-04","s":"Colombie-Britannique","v":1.405},{"d":"2024-05","s":"Colombie-Britannique","v":1.44},{"d":"2024-06","s":"Colombie-Britannique","v":1.475},{"d":"2024-07","s":"Colombie-Britannique","v":1.455},{"d":"2024-08","s":"Colombie-Britannique","v":1.44},{"d":"2024-09","s":"Colombie-Britannique","v":1.435},{"d":"2024-10","s":"Colombie-Britannique","v":1.42},{"d":"2024-11","s":"Colombie-Britannique","v":1.42}
]},
"layer": [
{"data": {"values": [{}]}, "mark": {"type": "rule", "color": "#404040", "strokeWidth": 2}, "encoding": {"y": {"datum": 0, "type": "quantitative"}}},
{"transform": [{"filter": "datum.s == 'Canada' && utcmonth(datum.d) == 0"}],
 "mark": {"type": "rule", "color": "#404040", "strokeWidth": 1.5},
 "encoding": {"x": {"field": "d", "type": "temporal"}, "y": {"datum": 0, "type": "quantitative"}, "y2": {"datum": 0.06}}},
{"mark": {"type": "line", "strokeWidth": 2.6, "clip": true},
 "encoding": {
  "x": {"field": "d", "type": "temporal",
   "scale": {"type": "utc", "domain": [{"year": 2011, "month": 1, "date": 1, "utc": true}, {"year": 2024, "month": 11, "date": 1, "utc": true}]},
   "axis": {"title": null, "grid": false, "ticks": false, "domainColor": "#595959", "domainWidth": 2,
     "values": [{"year":2011,"month":1,"date":1,"utc":true},{"year":2012,"month":1,"date":1,"utc":true},{"year":2013,"month":1,"date":1,"utc":true},{"year":2014,"month":1,"date":1,"utc":true},{"year":2015,"month":1,"date":1,"utc":true},{"year":2016,"month":1,"date":1,"utc":true},{"year":2017,"month":1,"date":1,"utc":true},{"year":2018,"month":1,"date":1,"utc":true},{"year":2019,"month":1,"date":1,"utc":true},{"year":2020,"month":1,"date":1,"utc":true},{"year":2021,"month":1,"date":1,"utc":true},{"year":2022,"month":1,"date":1,"utc":true},{"year":2023,"month":1,"date":1,"utc":true},{"year":2024,"month":1,"date":1,"utc":true}],
     "labelExpr": "['janv.', utcFormat(datum.value, '%Y')]",
     "labelFontSize": 18, "labelPadding": 12, "labelLineHeight": 22, "labelBaseline": "top", "labelFlush": false, "labelOverlap": false}},
  "y": {"field": "v", "type": "quantitative",
   "scale": {"domain": [-1, 2.5], "nice": false, "zero": false},
   "axis": {"values": [-1, -0.5, 0, 0.5, 1, 1.5, 2, 2.5],
     "labelExpr": "replace(replace(format(datum.value, '.1f'), '.', ','), '\u2212', '-')",
     "grid": true, "gridColor": {"condition": {"test": "datum.value == 2.5", "value": "#000000"}, "value": "#d9d9d9"}, "gridWidth": 2,
     "ticks": false, "domainColor": "#000000", "domainWidth": 2,
     "labelFontSize": 18, "labelPadding": 19,
     "title": "variation en pourcentage", "titleAngle": 0, "titleAlign": "left", "titleBaseline": "alphabetic",
     "titleX": -57, "titleY": -29, "titleFontSize": 18, "titleFontWeight": "normal"}},
  "color": {"field": "s", "type": "nominal",
   "scale": {"domain": ["Canada", "Manitoba", "Saskatchewan", "Alberta", "Colombie-Britannique"], "range": ["#000080", "#ff0000", "#99ccff", "#000080", "#99ccff"]},
   "legend": {"title": null, "orient": "none", "legendX": 49, "legendY": 423, "direction": "horizontal", "columns": 5, "columnPadding": 91, "symbolType": "stroke", "symbolSize": 3025, "symbolStrokeWidth": 3, "labelFontSize": 18, "labelColor": "#222222", "labelOffset": 6, "labelLimit": 400}},
  "strokeDash": {"field": "s", "type": "nominal",
   "scale": {"domain": ["Canada", "Manitoba", "Saskatchewan", "Alberta", "Colombie-Britannique"], "range": [[1, 0], [1, 0], [1, 0], [14, 7], [14, 7]]},
   "legend": {"title": null, "orient": "none", "legendX": 49, "legendY": 423, "direction": "horizontal", "columns": 5, "columnPadding": 91, "symbolType": "stroke", "symbolSize": 3025, "symbolStrokeWidth": 3, "labelFontSize": 18, "labelColor": "#222222", "labelOffset": 6, "labelLimit": 400}}
 }}
]
}
